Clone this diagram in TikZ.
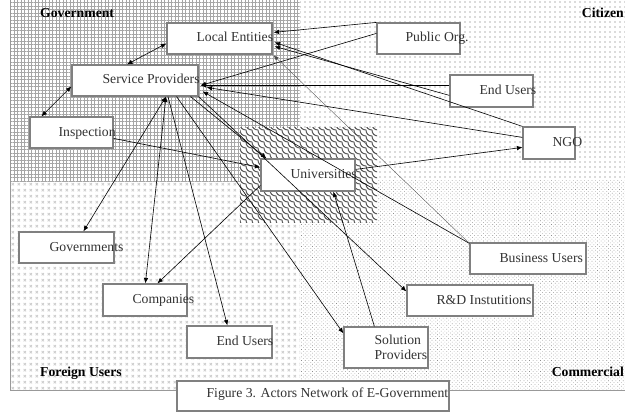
\documentclass[tikz,border=0pt]{standalone}
\usepackage{fontspec}
\setmainfont{Liberation Serif}
\usetikzlibrary{patterns,patterns.meta,arrows.meta,calc}

\pgfdeclarepatternformonly{scales}{\pgfqpoint{-1pt}{-1pt}}{\pgfqpoint{7pt}{7pt}}{\pgfqpoint{6pt}{6pt}}{%
  \pgfsetlinewidth{1pt}%
  \pgfpathmoveto{\pgfqpoint{0pt}{6pt}}%
  \pgfpathcurveto{\pgfqpoint{0pt}{2.5pt}}{\pgfqpoint{2.5pt}{0pt}}{\pgfqpoint{6pt}{0pt}}%
  \pgfusepath{stroke}%
}
\pgfdeclarepatternformonly{xdots}{\pgfqpoint{0pt}{0pt}}{\pgfqpoint{5.5pt}{5.5pt}}{\pgfqpoint{5.5pt}{5.5pt}}{%
  \pgfpathcircle{\pgfqpoint{1pt}{1pt}}{0.45pt}%
  \pgfpathcircle{\pgfqpoint{3pt}{1pt}}{0.45pt}%
  \pgfpathcircle{\pgfqpoint{2pt}{2pt}}{0.45pt}%
  \pgfpathcircle{\pgfqpoint{1pt}{3pt}}{0.45pt}%
  \pgfpathcircle{\pgfqpoint{3pt}{3pt}}{0.45pt}%
  \pgfusepath{fill}%
}

\begin{document}
\begin{tikzpicture}[x=1pt,y=-1pt,
  every node/.style={font=\fontsize{13.7}{15}\selectfont},
  box/.style={draw=black!50,line width=1.2pt,fill=white,inner sep=0pt},
  lbl/.style={inner sep=0pt,text=black!80,anchor=base west,align=left},
  region/.style={inner sep=0pt,font=\fontsize{13.7}{15}\selectfont\bfseries},
  arr/.style={-{Latex[length=5.5pt,width=4.5pt]},line width=0.6pt},
  darr/.style={{Latex[length=5.5pt,width=4.5pt]}-{Latex[length=5.5pt,width=4.5pt]},line width=0.6pt},
  thinarr/.style={-{Latex[length=5pt,width=4pt]},line width=0.35pt,draw=black!70}
]
\useasboundingbox (0,0) rectangle (625,412);
\fill[white] (0,0) rectangle (625,412);

% regions
\path[pattern={Hatch[angle=0,distance=3.5pt,line width=0.3pt]},pattern color=black!35] (10,0) rectangle (300,182);
\path[pattern={Dots[distance=5pt,radius=0.55pt]},pattern color=black!60] (300,0) rectangle (625,180);
\path[pattern=xdots,pattern color=black!45] (10,182) rectangle (300,390);
\path[pattern={Dots[distance=2.6pt,radius=0.45pt,angle=45]},pattern color=black!45] (300,180) rectangle (625,390);
\fill[white] (240,128) rectangle (377,222);
\path[pattern=scales,pattern color=black!65] (240,128) rectangle (377,222);
\draw[black!40,line width=0.6pt] (10,0) -- (10,390) -- (625,390);

\node[region,anchor=base west] (govl) at (40,17.5) {Government};
\node[region,anchor=base east] (citl) at (624,17.5) {Citizen};
\node[region,anchor=base west] (forl) at (40,376) {Foreign Users};
\node[region,anchor=base east] (coml) at (624,376) {Commercial};

% boxes
\node[box,minimum width=105pt,minimum height=31pt] (le) at (219.5,38.5) {};
\node[box,minimum width=126pt,minimum height=31pt] (sp) at (135,80.5) {};
\node[box,minimum width=83pt,minimum height=31pt] (insp) at (71.5,132.5) {};
\node[box,minimum width=94pt,minimum height=32pt] (uni) at (308,175) {};
\node[box,minimum width=83pt,minimum height=31pt] (po) at (418.5,38.5) {};
\node[box,minimum width=83pt,minimum height=32pt] (euc) at (491.5,91) {};
\node[box,minimum width=52pt,minimum height=32pt] (ngo) at (549,143) {};
\node[box,minimum width=95pt,minimum height=31pt] (gov) at (66.5,247.5) {};
\node[box,minimum width=84pt,minimum height=32pt] (comp) at (145,300) {};
\node[box,minimum width=85pt,minimum height=32pt] (euf) at (229.5,342) {};
\node[box,minimum width=116pt,minimum height=31pt] (bu) at (528,258.5) {};
\node[box,minimum width=126pt,minimum height=31pt] (rd) at (470,300.5) {};
\node[box,minimum width=84pt,minimum height=41pt] (solp) at (386,347.5) {};
\node[box,minimum width=272pt,minimum height=30pt] (cap) at (313,396) {};

% texts
\node[lbl] (let) at ($(le.north west)+(30,19.5)$) {Local Entities};
\node[lbl] (spt) at ($(sp.north west)+(31,19.5)$) {Service Providers};
\node[lbl] (inspt) at ($(insp.north west)+(29,20)$) {Inspection};
\node[lbl] (unit) at ($(uni.north west)+(30,20)$) {Universities};
\node[lbl] (pot) at ($(po.north west)+(29,19.5)$) {Public Org.};
\node[lbl] (euct) at ($(euc.north west)+(30,20)$) {End Users};
\node[lbl] (ngot) at ($(ngo.north west)+(30,20)$) {NGO};
\node[lbl] (govt) at ($(gov.north west)+(31,20)$) {Governments};
\node[lbl] (compt) at ($(comp.north west)+(30,20)$) {Companies};
\node[lbl] (euft) at ($(euf.north west)+(30,20)$) {End Users};
\node[lbl] (but) at ($(bu.north west)+(30,20)$) {Business Users};
\node[lbl] (rdt) at ($(rd.north west)+(30,20)$) {R\&D Instutitions};
\node[lbl] (solpt) at ($(solp.north west)+(31,33)$) {Solution\\Providers};
\node[lbl] (capt) at ($(cap.north west)+(30,17)$) {Figure 3. Actors Network of E-Government};

% connectors
\draw[darr] ($(le.north west)+(0,21)$) -- ($(sp.north)+(-8,0)$);
\draw[darr] ($(sp.north west)+(0,22)$) -- ($(insp.north west)+(12,0)$);
\draw[arr] (po.north west) -- ($(le.north east)+(1,10)$);
\draw[arr] ($(po.north west)+(0,11)$) -- ($(sp.north east)+(2,21)$);
\draw[arr] ($(euc.north west)+(0,11)$) -- ($(sp.north east)+(2,21)$);
\draw[arr] ($(euc.north west)+(0,21)$) -- ($(le.north east)+(2,24)$);
\draw[arr] (ngo.north west) -- ($(le.north east)+(2,20)$);
\draw[arr] ($(ngo.north west)+(0,11)$) -- ($(sp.north east)+(8,23)$);
\draw[arr] ($(bu.north west)+(0,1)$) -- ($(sp.north east)+(4,27)$);
\draw[thinarr] ($(bu.north west)+(0,1)$) -- ($(le.north east)+(1,33)$);
\draw[arr] ($(sp.south east)+(-8,0)$) -- ($(uni.north west)+(6,0)$);
\draw[arr] (sp.south east) -- ($(rd.north west)+(0,7)$);
\draw[arr] ($(sp.south east)+(-22,0)$) -- ($(solp.north west)+(0,7)$);
\draw[arr] ($(sp.south)+(33,0)$) -- ($(euf.north west)+(41,0)$);
\draw[darr] ($(sp.south)+(31,0)$) -- ($(comp.north west)+(43,0)$);
\draw[darr] ($(sp.south)+(31,0)$) -- ($(gov.north west)+(65,0)$);
\draw[arr] ($(insp.north east)+(0,22)$) -- ($(uni.north west)+(0,9)$);
\draw[arr] ($(uni.north east)+(0,11)$) -- ($(ngo.north west)+(0,21)$);
\draw[arr] ($(uni.north west)+(0,27)$) -- ($(comp.north west)+(55,0)$);
\draw[arr] ($(solp.north west)+(31,0)$) -- ($(uni.south west)+(73,0)$);
\end{tikzpicture}
\end{document}
